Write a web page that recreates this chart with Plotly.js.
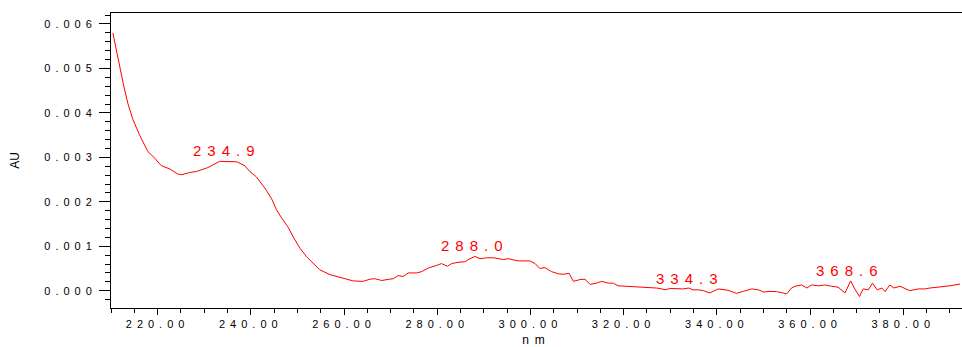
<!DOCTYPE html>
<html>
<head>
<meta charset="utf-8">
<script src="https://cdn.plot.ly/plotly-3.0.1.min.js"></script>
<style>
  html, body { margin: 0; padding: 0; background: #fff; }
  #chart { width: 962px; height: 347px; }
  .xtick text, .ytick text { letter-spacing: 5px; }
  .annotation-text { letter-spacing: 6px; }
  .xtitle { letter-spacing: 6px; }
</style>
</head>
<body>
<div id="chart"></div>
<script>
// Wavelength (nm)
const wavelength = [
  210.4, 211.1, 211.8, 212.6, 213.6, 214.7, 216.1, 217.9, 219.4, 220.8,
  222.6, 224.4, 225.2, 226.9, 228.3, 230.8, 233.3, 235.5, 237.0, 238.7,
  239.8, 241.2, 243.0, 244.5, 245.5, 246.6, 248.0, 249.1, 250.5, 252.0,
  253.0, 254.8, 257.0, 258.4, 260.2, 262.0, 264.1, 265.6, 266.6, 268.1,
  269.8, 270.6, 271.6, 272.7, 273.8, 275.6, 276.7, 278.1, 279.9, 280.9,
  282.2, 283.1, 284.5, 285.9, 287.0, 288.1, 289.2, 290.6, 292.2, 294.2,
  295.2, 297.4, 299.9, 301.0, 302.0, 303.1, 304.5, 306.0, 307.0, 308.3,
  309.2, 310.6, 311.7, 312.8, 314.1, 315.3, 316.7, 317.8, 318.8, 320.6,
  322.0, 323.4, 324.8, 326.2, 327.1, 328.2, 328.9, 330.0, 331.4, 332.8,
  333.9, 334.9, 336.0, 337.1, 338.5, 340.3, 342.4, 344.2, 345.7, 347.5,
  348.9, 350.0, 351.4, 352.8, 355.0, 356.0, 356.8, 358.2, 359.3, 360.3,
  361.8, 363.2, 364.6, 366.0, 367.5, 368.7, 369.6, 370.6, 371.4, 372.5,
  373.4, 374.4, 375.4, 376.1, 377.1, 378.0, 379.3, 380.3, 381.4, 383.2,
  384.7, 385.7, 387.9, 390.0, 392.2
];
// Absorbance (AU)
const absorbance = [
  0.00580, 0.00542, 0.00505, 0.00467, 0.00422, 0.00385, 0.00351, 0.00313, 0.00298, 0.00281,
  0.00274, 0.00262, 0.00261, 0.00266, 0.00268, 0.00277, 0.00291, 0.00291, 0.00290, 0.00281,
  0.00268, 0.00256, 0.00231, 0.00206, 0.00182, 0.00164, 0.00143, 0.00121, 0.00096, 0.00076,
  0.00066, 0.00047, 0.00036, 0.00032, 0.00026, 0.00022, 0.00021, 0.00026, 0.00027, 0.00023,
  0.00026, 0.00027, 0.00034, 0.00032, 0.00040, 0.00040, 0.00043, 0.00051, 0.00057, 0.00061,
  0.00055, 0.00061, 0.00064, 0.00065, 0.00072, 0.00077, 0.00072, 0.00074, 0.00074, 0.00070,
  0.00072, 0.00067, 0.00067, 0.00061, 0.00050, 0.00052, 0.00043, 0.00038, 0.00037, 0.00039,
  0.00021, 0.00025, 0.00026, 0.00014, 0.00017, 0.00021, 0.00017, 0.00017, 0.00011, 0.00010,
  0.00008, 0.00008, 0.00007, 0.00007, 0.00006, 0.00004, 0.00002, 0.00005, 0.000045, 0.00004,
  0.00006, 0.00002, 0.00002, 0.00000, -0.00005, 0.00004, 0.00001, -0.00006, -0.000015, 0.00004,
  0.00002, -0.00003, -0.000015, -0.00002, -0.00007, 0.00006, 0.00010, 0.00013, 0.00006, 0.00013,
  0.00011, 0.00013, 0.00010, 0.00008, -0.00005, 0.00022, 0.00004, -0.00013, 0.00004, 0.00002,
  0.00017, 0.00002, 0.00006, -0.00002, 0.00013, 0.00006, 0.00010, 0.00006, 0.00000, 0.00004,
  0.00004, 0.00006, 0.00008, 0.00011, 0.00015
];
// Peak labels
const peakNm = [234.9, 288.0, 334.3, 368.6];
const peakAU = [0.00291, 0.00077, 0.00004, 0.00022];

const fontFam = 'Arial, "Liberation Sans", sans-serif';

const trace = {
  x: wavelength,
  y: absorbance,
  type: 'scatter',
  mode: 'lines',
  line: { color: '#ff0000', width: 1 },
  hoverinfo: 'skip'
};

const annotations = peakNm.map((nm, i) => ({
  x: nm, y: peakAU[i], xref: 'x', yref: 'y',
  text: nm.toFixed(1),
  showarrow: false,
  xanchor: 'center', yanchor: 'middle',
  yshift: 10.5,
  font: { family: fontFam, size: 15, color: '#ff0000' }
}));

const layout = {
  width: 962, height: 347,
  margin: { l: 111, r: 0, t: 13, b: 39, pad: 0 },
  paper_bgcolor: '#ffffff',
  plot_bgcolor: '#ffffff',
  showlegend: false,
  font: { family: fontFam, size: 11, color: '#000' },
  xaxis: {
    range: [210, 392.6],
    showgrid: false, zeroline: false,
    showline: true, linecolor: '#000', linewidth: 1, mirror: true,
    ticks: 'outside', ticklen: 6, tickcolor: '#000', tickwidth: 1,
    tick0: 0, dtick: 20, tickformat: '.2f',
    tickfont: { family: fontFam, size: 11, color: '#000' },
    minor: { dtick: 5, ticks: 'outside', ticklen: 4, tickcolor: '#000', tickwidth: 1, showgrid: false },
    title: { text: 'nm', font: { family: fontFam, size: 12, color: '#000' }, standoff: 15 }
  },
  yaxis: {
    range: [-0.000389, 0.006247],
    showgrid: false, zeroline: false,
    showline: true, linecolor: '#000', linewidth: 1, mirror: false,
    ticks: 'outside', ticklen: 11, tickcolor: '#000', tickwidth: 1,
    tick0: 0, dtick: 0.001, tickformat: '.3f',
    tickfont: { family: fontFam, size: 11, color: '#000' },
    minor: { dtick: 0.0002, ticks: 'outside', ticklen: 5, tickcolor: '#000', tickwidth: 1, showgrid: false },
    title: { text: 'AU', font: { family: fontFam, size: 12, color: '#000' }, standoff: 22 }
  },
  annotations: annotations
};

Plotly.newPlot('chart', [trace], layout, { staticPlot: true, displayModeBar: false });
</script>
</body>
</html>
